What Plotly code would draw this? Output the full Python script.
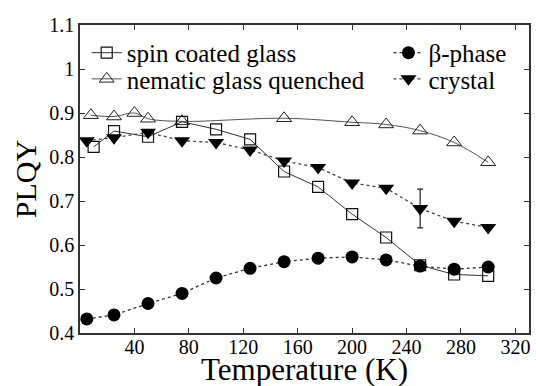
import plotly.graph_objects as go

# Data
T_spin = [10, 25, 50, 75, 100, 125, 150, 175, 200, 225, 250, 275, 300]
Q_spin = [0.823, 0.859, 0.846, 0.880, 0.863, 0.840, 0.767, 0.732, 0.670, 0.617, 0.554, 0.533, 0.530]

T_beta = [5, 25, 50, 75, 100, 125, 150, 175, 200, 225, 250, 275, 300]
Q_beta = [0.432, 0.441, 0.467, 0.490, 0.525, 0.547, 0.562, 0.570, 0.573, 0.566, 0.552, 0.545, 0.550]

T_nem = [8, 25, 40, 50, 75, 150, 200, 225, 250, 275, 300]
Q_nem = [0.895, 0.892, 0.900, 0.887, 0.881, 0.888, 0.879, 0.874, 0.860, 0.833, 0.788]

T_cry = [5, 25, 50, 75, 100, 125, 150, 175, 200, 225, 250, 275, 300]
Q_cry = [0.837, 0.844, 0.856, 0.837, 0.833, 0.816, 0.791, 0.776, 0.741, 0.729, 0.683, 0.654, 0.640]
E_cry = [0, 0, 0, 0, 0, 0, 0, 0, 0, 0, 0.044, 0, 0]

x_ticks = [40, 80, 120, 160, 200, 240, 280, 320]
y_ticks = [0.4, 0.5, 0.6, 0.7, 0.8, 0.9, 1.0, 1.1]
y_ticktext = ["0.4", "0.5", "0.6", "0.7", "0.8", "0.9", "1", "1.1"]

FONT = "Liberation Serif, Times New Roman, Times, serif"

fig = go.Figure()

fig.add_trace(go.Scatter(
    x=T_nem, y=Q_nem, name="nematic glass quenched", mode="lines+markers",
    line=dict(color="#555555", width=1, shape="spline", smoothing=1.0),
    marker=dict(symbol="triangle-up-open", size=13, color="#222222", line=dict(width=1)),
    legend="legend3"))

fig.add_trace(go.Scatter(
    x=T_spin, y=Q_spin, name="spin coated glass", mode="lines+markers",
    line=dict(color="#333333", width=1),
    marker=dict(symbol="square-open", size=11, color="#111111", line=dict(width=1.2)),
    legend="legend"))

fig.add_trace(go.Scatter(
    x=T_cry, y=Q_cry, name="crystal", mode="lines+markers",
    line=dict(color="#444444", width=1.3, dash="dot"),
    marker=dict(symbol="triangle-down", size=14, color="black"),
    error_y=dict(type="data", array=E_cry, visible=True, color="#222222", thickness=1.2, width=3),
    legend="legend4"))

fig.add_trace(go.Scatter(
    x=T_beta, y=Q_beta, name="β-phase", mode="lines+markers",
    line=dict(color="#333333", width=1.3, dash="dot"),
    marker=dict(symbol="circle", size=13, color="black"),
    legend="legend2"))

axis_common = dict(
    showline=True, linecolor="#333333", linewidth=1.5, mirror="ticks",
    ticks="inside", ticklen=5, tickwidth=1, tickcolor="#333333",
    showgrid=False, zeroline=False,
    tickfont=dict(family=FONT, size=20, color="black"),
)

leg_common = dict(xanchor="left", yanchor="top", bgcolor="rgba(0,0,0,0)",
                  font=dict(family=FONT, size=25), tracegroupgap=0, itemwidth=30)

fig.update_layout(
    width=536, height=386,
    margin=dict(l=80, r=5, t=25, b=53),
    paper_bgcolor="white", plot_bgcolor="white",
    font=dict(family=FONT, color="black"),
    showlegend=True,
    xaxis=dict(range=[0, 330], tickvals=x_ticks, ticklabelstandoff=-5, **axis_common),
    yaxis=dict(range=[0.4, 1.1], tickvals=y_ticks, ticktext=y_ticktext,
               title=dict(text="PLQY", font=dict(family=FONT, size=30), standoff=4),
               **axis_common),
    legend=dict(x=0.015, y=0.984, **leg_common),
    legend3=dict(x=0.015, y=0.899, **leg_common),
    legend2=dict(x=0.687, y=0.984, **leg_common),
    legend4=dict(x=0.687, y=0.899, **leg_common),
    annotations=[dict(
        text="Temperature (K)", xref="paper", yref="paper",
        x=0.5, y=-0.172, xanchor="center", yanchor="bottom",
        showarrow=False, yshift=-3,
        font=dict(family=FONT, size=31, color="black"))],
)

fig.write_html("out.html")
